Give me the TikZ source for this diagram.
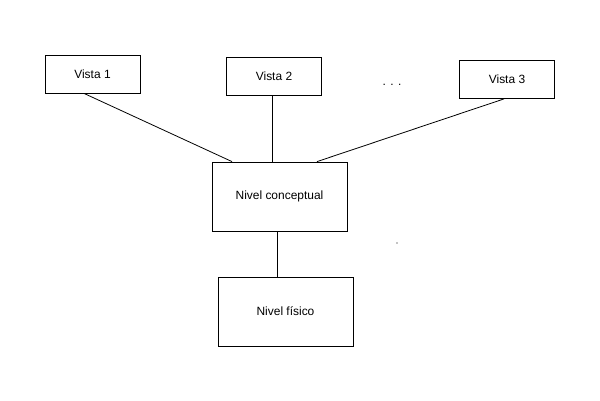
\documentclass[tikz,border=0pt]{standalone}
\usepackage{fontspec}
\setmainfont{Liberation Sans}
\usetikzlibrary{positioning,calc}

\begin{document}
\begin{tikzpicture}[x=1bp, y=-1bp, line width=0.8pt,
    vistabox/.style={draw, rectangle, minimum width=95bp, minimum height=38bp, inner sep=0pt, font=\fontsize{12}{14}\selectfont},
    nivelbox/.style={draw, rectangle, minimum width=135bp, minimum height=69bp, inner sep=0pt, font=\fontsize{12}{14}\selectfont}]
    \useasboundingbox (0,0) rectangle (600,400);
    % vistas
    \node[vistabox] (v1) at (92.5, 74) {Vista 1};
    \node[vistabox] (v2) at (274, 76) {Vista 2};
    \node[vistabox] (v3) at (507, 79.5) {Vista 3};
    \node (dots) at (392, 85) {\fontsize{12}{14}\selectfont . . .};
    % niveles
    \node[nivelbox] (conc) at (279.5, 196.5) {Nivel conceptual};
    \node[nivelbox] (fis) at (285.5, 311.5) {Nivel físico};
    \draw ([xshift=-8.5bp]v1.south) -- ([xshift=-47.5bp]conc.north);
    \draw ([xshift=-2bp]v2.south) -- ([xshift=-2bp]v2.south |- conc.north);
    \draw ([xshift=-3bp]v3.south) -- ([xshift=37.5bp]conc.north);
    \draw ([xshift=-2.5bp]conc.south) -- ([xshift=-2.5bp]conc.south |- fis.north);
    \fill (397, 243) circle (0.6);
\end{tikzpicture}
\end{document}
